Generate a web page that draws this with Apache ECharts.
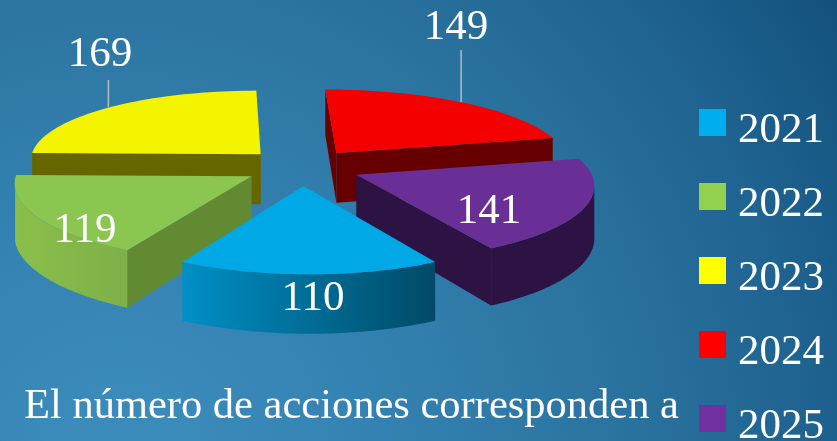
<!DOCTYPE html>
<html><head><meta charset="utf-8">
<style>html,body{margin:0;padding:0;background:#256c99;overflow:hidden}#c{width:837px;height:441px;overflow:hidden}</style>
<script src="https://cdn.jsdelivr.net/npm/echarts@6/dist/echarts.min.js"></script>
</head><body><div id="c"></div>
<script>
const years = ['2021','2022','2023','2024','2025'];
const actions = [110,119,169,149,141];
const note = 'El número de acciones corresponden a';
const legendColors = ['#00AEEF','#92D050','#FFFF00','#FF0000','#7030A0'];
const topColors = ['#00A8E6','#8AC650','#F4F400','#F40000','#6A2F96'];
const wallColors = ['#006F99','#628A33','#666600','#660000','#2C1343'];
const arcWalls = [['#0090C6','#004A66'],['#8ABF4B','#7DB048'],['#666600','#666600'],['#660000','#660000'],['#2C1343','#2C1343']];
const drawOrder = [5,3,1,2,4];
const labelSpots = [[313,299],[85,231],[100,55],[456,28],[489,212]];
const leaderTop = [null,null,80,50,null];

const P = {cx:302, cy:167, rx:233, ry:73.6, k:0.114, kx:0.1, shear:6, depth:51, explode:0.25};
const total = actions.reduce((a,b)=>a+b,0);
const startDeg = 180 - actions[0]/total*180;
const slices = [];
let run = startDeg;
actions.forEach(v=>{const sweep=v/total*360; slices.push({a0:run,a1:run+sweep}); run+=sweep;});
const rad = d=>d*Math.PI/180;
function project(u,v,h){
  const s=1/(1+P.k*v), sx=1/(1+P.kx*v);
  return [P.cx+P.rx*u*sx-P.shear*v, P.cy-P.ry*v*s+(h||0)*s];
}
function renderSlice(i){
  const sl=slices[i], mid=rad((sl.a0+sl.a1)/2);
  const ox=P.explode*Math.sin(mid), oy=P.explode*Math.cos(mid);
  const camV=-1/P.k;
  const rim=[];
  const n=48;
  for(let j=0;j<=n;j++){const t=rad(sl.a0+(sl.a1-sl.a0)*j/n); rim.push([ox+Math.sin(t),oy+Math.cos(t),t]);}
  const top=[project(ox,oy)].concat(rim.map(p=>project(p[0],p[1])));
  const kids=[];
  const wall=(a,b,fill)=>kids.push({type:'polygon',shape:{points:[project(a[0],a[1]),project(b[0],b[1]),project(b[0],b[1],P.depth),project(a[0],a[1],P.depth)]},style:{fill:fill}});
  const faces=(nu,nv,pu,pv)=>nu*(0-pu)+nv*(camV-pv)>0;
  const c=[ox,oy];
  const t0=rad(sl.a0), t1=rad(sl.a1);
  if(faces(-Math.cos(t0),Math.sin(t0),ox,oy)) wall(c,rim[0],wallColors[i]);
  if(faces(Math.cos(t1),-Math.sin(t1),ox,oy)) wall(c,rim[n],wallColors[i]);
  const vis=rim.filter(p=>faces(Math.sin(p[2]),Math.cos(p[2]),p[0],p[1]));
  if(vis.length>1){
    const up=vis.map(p=>project(p[0],p[1]));
    const dn=vis.map(p=>project(p[0],p[1],P.depth)).reverse();
    kids.push({type:'polygon',shape:{points:up.concat(dn)},style:{fill:new echarts.graphic.LinearGradient(0,0,1,0,[{offset:0,color:arcWalls[i][0]},{offset:1,color:arcWalls[i][1]}])}});
  }
  kids.push({type:'polygon',shape:{points:top},style:{fill:topColors[i]}});
  if(leaderTop[i]!==null){
    const g=project(ox+Math.sin(mid),oy+Math.cos(mid));
    kids.push({type:'line',shape:{x1:g[0],y1:leaderTop[i],x2:g[0],y2:g[1]},style:{stroke:'#B4BCC4',lineWidth:1.5}});
  }
  kids.push({type:'text',x:labelSpots[i][0],y:labelSpots[i][1],style:{text:String(actions[i]),fill:'#FFFFFF',font:'43px "Liberation Serif"',align:'center',verticalAlign:'middle'}});
  return {type:'group',children:kids};
}
const chart=echarts.init(document.getElementById('c'),null,{renderer:'canvas',width:837,height:470});
chart.setOption({
  animation:false,
  backgroundColor:new echarts.graphic.RadialGradient(120,470,860,[
    {offset:0.09,color:'#3A8ABA'},{offset:0.3,color:'#3482B1'},{offset:0.6,color:'#2A729E'},{offset:0.8,color:'#1F6391'},{offset:1,color:'#12517C'}],true),
  legend:{orient:'vertical',left:699,top:109,padding:0,itemWidth:27,itemHeight:27,itemGap:31,
    icon:'rect',data:years,selectedMode:false,
    formatter:'{y|{name}}',
    textStyle:{rich:{y:{color:'#FFFFFF',fontFamily:'Liberation Serif',fontSize:43,padding:[16,0,0,7]}}}},
  graphic:[{type:'text',left:24,top:385,style:{text:note,fill:'#FFFFFF',font:'42.5px "Liberation Serif"'}}],
  series:years.map((y,i)=>({
    type:'custom',name:y,coordinateSystem:'none',z:drawOrder[i],silent:true,
    itemStyle:{color:legendColors[i]},
    data:[actions[i]],
    renderItem:()=>renderSlice(i)
  }))
});
</script></body></html>
